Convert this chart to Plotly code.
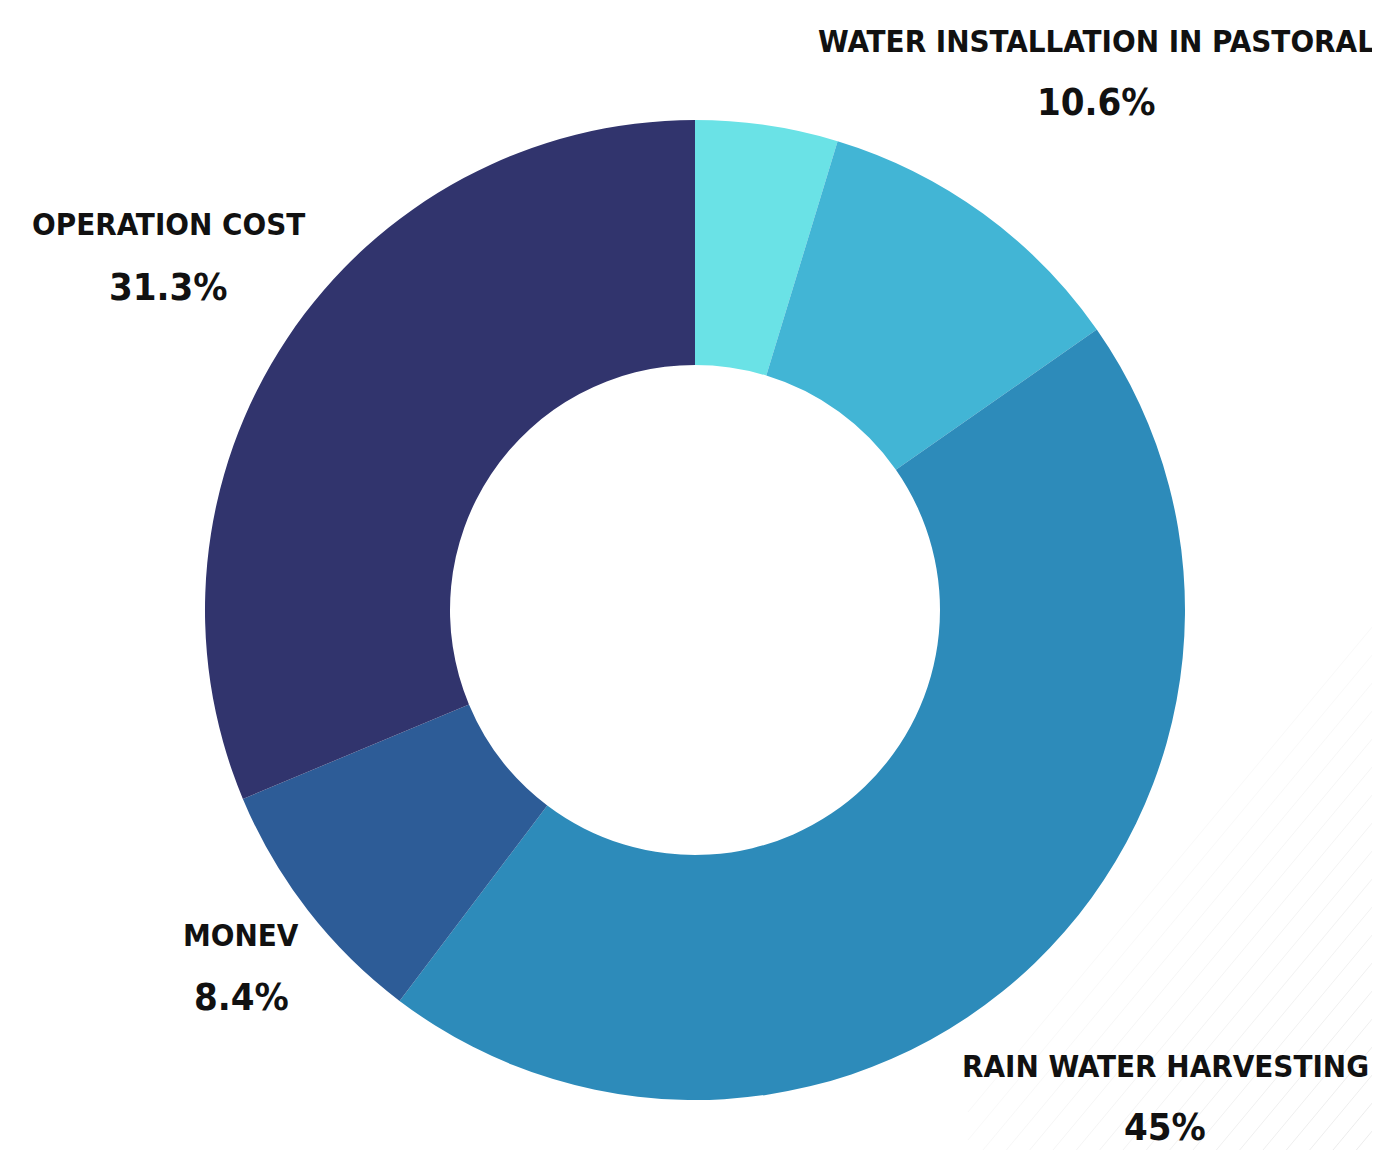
import plotly.graph_objects as go

categories = ["", "WATER INSTALLATION IN PASTORAL", "RAIN WATER HARVESTING", "MONEV", "OPERATION COST"]
values = [4.7, 10.6, 45.0, 8.4, 31.3]
colors = ["#6AE2E6", "#42B5D5", "#2D8BBA", "#2D5C97", "#31346D"]

W, H = 1380, 1150
cx, cy, R = 687, 602, 490

fig = go.Figure(go.Pie(
    labels=[c if c else "OTHER" for c in categories],
    values=values,
    sort=False,
    direction="clockwise",
    rotation=0,
    hole=0.5,
    marker=dict(colors=colors, line=dict(width=0)),
    textinfo="none",
    hoverinfo="label+percent",
    showlegend=False,
    domain=dict(x=[(cx - R) / W, (cx + R) / W], y=[(H - cy - R) / H, (H - cy + R) / H]),
))

# decorative faint diagonal background strokes (bottom-right corner)
for i, start in enumerate(range(600, 1150, 28)):
    length = 420
    alpha = 0.05 + 0.10 * (start - 600) / 550
    fig.add_shape(
        type="line", xref="paper", yref="paper", layer="below",
        x0=1.0, y0=1 - start / H,
        x1=(W - length) / W, y1=1 - (start + length * 1.2) / H,
        line=dict(color=f"rgba(120,120,120,{alpha:.3f})", width=1),
    )

# label layout: (center x, name line y, percent line y) in pixels
label_pos = {
    "WATER INSTALLATION IN PASTORAL": (1088, 33, 94),
    "RAIN WATER HARVESTING": (1157, 1058, 1119),
    "MONEV": (233, 927, 989),
    "OPERATION COST": (160, 216, 279),
}
name_font = dict(family="DejaVu Sans Condensed", size=31, color="#111111")
pct_font = dict(family="DejaVu Sans Condensed", size=38, color="#111111")
for cat, val in zip(categories, values):
    if cat in label_pos:
        x, y1, y2 = label_pos[cat]
        pct = f"{val:g}%"
        fig.add_annotation(
            x=x / W, y=1 - y1 / H, xref="paper", yref="paper",
            text=f"<b>{cat}</b>", showarrow=False,
            font=name_font, xanchor="center", yanchor="middle",
        )
        fig.add_annotation(
            x=x / W, y=1 - y2 / H, xref="paper", yref="paper",
            text=f"<b>{pct}</b>", showarrow=False,
            font=pct_font, xanchor="center", yanchor="middle",
        )

fig.update_layout(
    width=W, height=H,
    margin=dict(l=0, r=0, t=0, b=0),
    paper_bgcolor="white", plot_bgcolor="white",
)
fig.write_html("out.html")
